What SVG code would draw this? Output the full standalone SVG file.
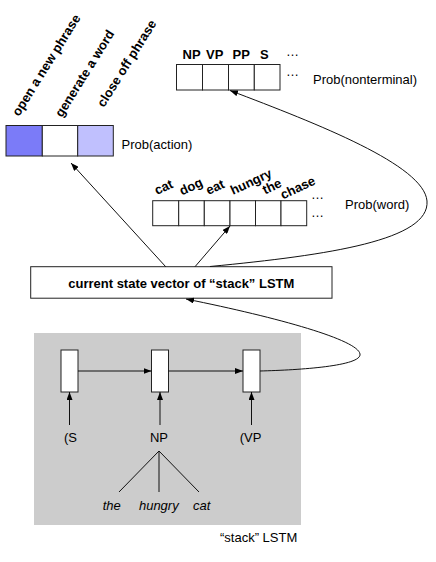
<svg xmlns="http://www.w3.org/2000/svg" width="436" height="562" viewBox="0 0 436 562">
<defs>
<style>
text{font-family:"Liberation Sans",Arial,sans-serif;font-size:13px;fill:#000}
.b{font-weight:bold}
.i{font-style:italic}
.box{fill:#fff;stroke:#222;stroke-width:1}
.ln{fill:none;stroke:#111;stroke-width:1}
</style>
<marker id="ah" markerWidth="8" markerHeight="6" refX="8" refY="3" orient="auto" markerUnits="userSpaceOnUse">
<path d="M0,0 L8,3 L0,6 z" fill="#000"/>
</marker>
</defs>
<rect width="436" height="562" fill="#fff"/>

<g id="lstm-panel">
<rect x="34" y="333" width="267" height="192" fill="#cccccc"/>
<text x="220" y="541.5">“stack” LSTM</text>
</g>

<g id="action">
<rect x="6" y="125.5" width="36.3" height="30.5" fill="#7b7bf8" stroke="#222"/>
<rect x="42.3" y="125.5" width="35.4" height="30.5" class="box"/>
<rect x="77.7" y="125.5" width="35.6" height="30.5" fill="#c0c0fe" stroke="#222"/>
<text class="b" transform="translate(19,117) rotate(-58)">open a new phrase</text>
<text class="b" transform="translate(62,118) rotate(-58)">generate a word</text>
<text class="b" transform="translate(104,108) rotate(-58)">close off phrase</text>
<text x="121.5" y="149">Prob(action)</text>
</g>

<g id="nonterminal">
<rect x="176.5" y="64.5" width="26" height="25.5" class="box"/>
<rect x="202.5" y="64.5" width="26" height="25.5" class="box"/>
<rect x="228.5" y="64.5" width="25.8" height="25.5" class="box"/>
<rect x="254.3" y="64.5" width="25.7" height="25.5" class="box"/>
<text class="b" x="182.5" y="59">NP</text>
<text class="b" x="206" y="59">VP</text>
<text class="b" x="232.5" y="59">PP</text>
<text class="b" x="260" y="59">S</text>
<text x="286" y="56">…</text>
<text x="286" y="75.5">…</text>
<text x="313" y="83.5">Prob(nonterminal)</text>
</g>

<g id="word">
<rect x="152.7" y="200.7" width="26" height="25" class="box"/>
<rect x="178.7" y="200.7" width="25.6" height="25" class="box"/>
<rect x="204.3" y="200.7" width="25.7" height="25" class="box"/>
<rect x="230" y="200.7" width="25.5" height="25" class="box"/>
<rect x="255.5" y="200.7" width="25.5" height="25" class="box"/>
<rect x="281" y="200.7" width="25.7" height="25" class="box"/>
<text class="b" transform="translate(157,195) rotate(-25)">cat</text>
<text class="b" transform="translate(182,195.5) rotate(-25)">dog</text>
<text class="b" transform="translate(208.5,195) rotate(-25)">eat</text>
<text class="b" transform="translate(233,195) rotate(-25)">hungry</text>
<text class="b" transform="translate(265,194.5) rotate(-25)">the</text>
<text class="b" transform="translate(283,199.5) rotate(-25)">chase</text>
<text x="311" y="198.5">…</text>
<text x="311" y="217">…</text>
<text x="345" y="209">Prob(word)</text>
</g>

<g id="state">
<rect x="30.7" y="266.7" width="301.3" height="31.5" class="box"/>
<text class="b" x="181.3" y="288" text-anchor="middle">current state vector of “stack” LSTM</text>
</g>

<g id="cell-s">
<rect x="61" y="350" width="17" height="42" class="box"/>
<text x="70.5" y="442" text-anchor="middle">(S</text>
</g>
<g id="cell-np">
<rect x="151.5" y="350" width="17" height="42" class="box"/>
<text x="159" y="442" text-anchor="middle">NP</text>
</g>
<g id="cell-vp">
<rect x="243" y="350" width="17" height="42" class="box"/>
<text x="250.5" y="442" text-anchor="middle">(VP</text>
</g>

<g id="tree-words">
<text class="i" x="111.7" y="509.5" text-anchor="middle">the</text>
<text class="i" x="158.8" y="509.5" text-anchor="middle">hungry</text>
<text class="i" x="201.7" y="509.5" text-anchor="middle">cat</text>
</g>

<g id="connectors">
<line class="ln" x1="165.7" y1="266.7" x2="71" y2="163" marker-end="url(#ah)"/>
<line class="ln" x1="195" y1="266.7" x2="230" y2="226" marker-end="url(#ah)"/>
<path class="ln" d="M210,266.5 C330,255 430,240 427,201 C424,165 318,124 230,90.5" marker-end="url(#ah)"/>
<path class="ln" d="M260,371 C300,370 362,366 360,354 C358,340 280,318 186,299" marker-end="url(#ah)"/>
<line class="ln" x1="78" y1="371" x2="151.5" y2="371" marker-end="url(#ah)"/>
<line class="ln" x1="168.5" y1="371" x2="243" y2="371" marker-end="url(#ah)"/>
<line class="ln" x1="69.5" y1="425" x2="69.5" y2="392" marker-end="url(#ah)"/>
<line class="ln" x1="160" y1="425" x2="160" y2="392" marker-end="url(#ah)"/>
<line class="ln" x1="251.5" y1="425" x2="251.5" y2="392" marker-end="url(#ah)"/>
<line class="ln" x1="159" y1="451" x2="119" y2="492"/>
<line class="ln" x1="159" y1="451" x2="159" y2="492"/>
<line class="ln" x1="159" y1="451" x2="199" y2="492"/>
</g>
</svg>
